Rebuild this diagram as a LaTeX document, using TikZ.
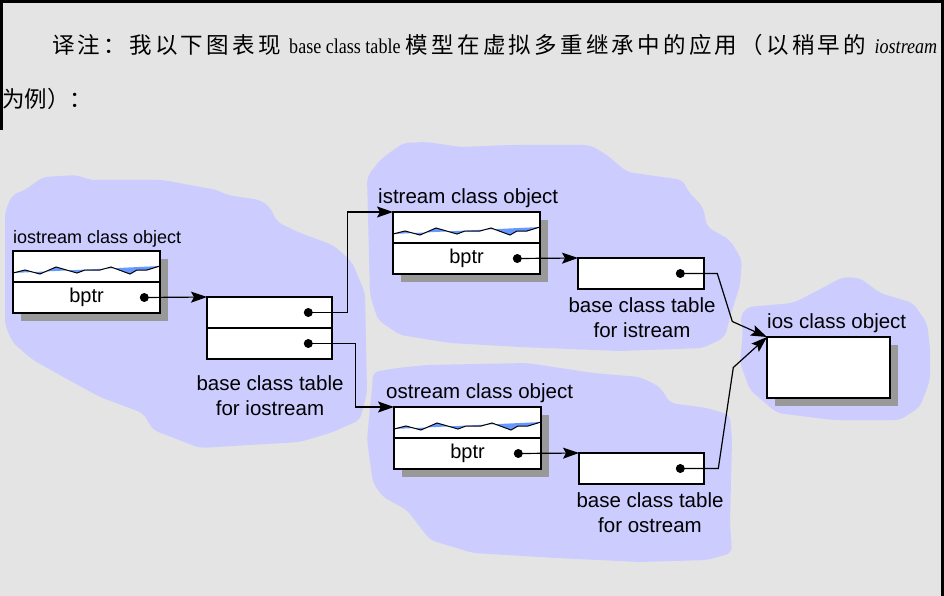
\documentclass[tikz,border=0pt]{standalone}
\usepackage{fontspec}
\setmainfont{Liberation Serif}
\setsansfont{Liberation Sans}
\newfontfamily\cjk{Noto Sans CJK SC}
\usetikzlibrary{arrows.meta,positioning,shadows}

\definecolor{paper}{HTML}{E4E4E4}
\definecolor{cloud}{HTML}{CCCCFF}
\definecolor{shade}{HTML}{999999}
\definecolor{wave}{HTML}{6699FF}

% spread a run of CJK characters over a justified line
\newcommand\cjkspread[1]{\cjkspreadi#1\relax}
\def\cjkspreadi#1{\ifx#1\relax\else#1\hskip 0pt plus 1fil\relax\expandafter\cjkspreadi\fi}
% narrow Latin words inside the CJK line
\newcommand\narrowlatin[1]{\scalebox{0.86}[1]{#1}}

% zigzag that stands for the data members of a class object
\newcommand{\slotwave}[1]{%
  \begin{scope}[shift={(#1)}]
    \fill[wave] (0,22) -- (12,19) -- (27,23) -- (43,16) -- (64,22) -- (72,19) -- (87,19)
      -- (98,16) -- (117,23) -- (124,19) -- (134,19) -- (147,15) -- cycle;
    \draw[line width=1] (0,22) -- (12,19) -- (27,23) -- (43,16) -- (64,22) -- (72,19) -- (87,19)
      -- (98,16) -- (117,23) -- (124,19) -- (134,19) -- (147,15);
  \end{scope}}

\begin{document}
\begin{tikzpicture}[x=1pt, y=-1pt, line join=miter]
    \tikzstyle{cell} = [draw, fill=white, line width=1.5, outer sep=0, inner sep=0,
      minimum height=31, font=\sffamily\fontsize{20}{24}\selectfont]
    \tikzstyle{obj} = [cell, minimum width=147,
      drop shadow={shadow xshift=8pt, shadow yshift=-8pt, opacity=1, fill=shade}]
    \tikzstyle{dot} = [circle, fill=black, inner sep=0, minimum size=9]
    \tikzstyle{lbl} = [inner sep=0, font=\sffamily\fontsize{20.5}{24.5}\selectfont]
    \tikzstyle{ptr} = [-{Stealth[length=16pt, width=11pt, inset=3pt]}, line width=1.2]
    \tikzstyle{note} = [inner sep=0, anchor=base west]

    \useasboundingbox (0,0) rectangle (944,596);
    \fill[paper] (0,0) rectangle (944,596);
    \draw[line width=3] (0,1.5) -- (944,1.5);
    \draw[line width=2.5] (1.25,0) -- (1.25,130);
    \draw[line width=3] (942.5,0) -- (942.5,596);

    \node (note1) [note] at (52,54) {\makebox[885pt][s]{\fontsize{21}{25}\selectfont
      {\cjk\fontsize{22.5}{26}\selectfont\cjkspread{译注：我以下图表现}} \narrowlatin{base class table}
      {\cjk\fontsize{22.5}{26}\selectfont\cjkspread{模型在虚拟多重继承中的应用（以稍早的}} \narrowlatin{\textit{iostream}}}};
    \node (note2) [note] at (2,108) {\cjk\fontsize{22.5}{26}\selectfont 为例）：};

    % the four objects' clouds
    \fill[cloud, rounded corners=6] (5,212) -- (12,195) -- (25,190) -- (43,177) -- (77,175)
      -- (90,180) -- (163,180) -- (217,190) -- (227,195) -- (260,200) -- (270,207) -- (277,222)
      -- (300,233) -- (333,245) -- (352,262) -- (365,293) -- (367,393) -- (360,420) -- (333,432)
      -- (300,442) -- (200,448) -- (153,430) -- (143,413) -- (100,397) -- (87,390) -- (33,360)
      -- (13,343) -- (5,325) -- cycle;
    \fill[cloud, rounded corners=6] (367,177) -- (380,160) -- (403,143) -- (427,142) -- (460,147)
      -- (510,145) -- (590,145) -- (607,155) -- (627,172) -- (683,180) -- (687,190) -- (703,207)
      -- (707,227) -- (730,240) -- (742,260) -- (740,285) -- (730,317) -- (725,337) -- (703,348)
      -- (620,351) -- (520,347) -- (450,343) -- (400,335) -- (378,320) -- (370,295) -- cycle;
    \fill[cloud, rounded corners=6] (372,390) -- (373,372) -- (397,368) -- (427,365) -- (527,363)
      -- (593,373) -- (640,377) -- (660,387) -- (670,403) -- (707,408) -- (730,415) -- (732,440)
      -- (730,523) -- (732,553) -- (707,560) -- (640,562) -- (557,558) -- (473,553) -- (430,540)
      -- (407,510) -- (383,497) -- (373,483) -- (367,440) -- (370,407) -- cycle;
    \fill[cloud, rounded corners=6] (747,307) -- (793,303) -- (813,293) -- (843,277) -- (860,278)
      -- (880,293) -- (913,303) -- (927,323) -- (930,347) -- (930,380) -- (920,407) -- (900,420)
      -- (833,420) -- (777,413) -- (750,390) -- (740,363) -- (743,330) -- (740,317) -- cycle;

    % iostream
    \node (iosobj-a) [obj, anchor=north west] at (13,251) {};
    \node (iosobj-b) [obj, below=0pt of iosobj-a] {bptr};
    \slotwave{iosobj-a.north west}
    \node (iosobj-dot) [dot, left=11pt of iosobj-b.east] {};
    \node (iosobj-lbl) [lbl, font=\sffamily\fontsize{18}{22}\selectfont, anchor=base west] at (13,243) {iostream class object};
    \node (iotab-a) [cell, minimum width=125, anchor=north west] at (207,297) {};
    \node (iotab-b) [cell, minimum width=125, below=0pt of iotab-a] {};
    \node (iotab-dota) [dot, left=19pt of iotab-a.east] {};
    \node (iotab-dotb) [dot, left=19pt of iotab-b.east] {};
    \node (iotab-lbl) [lbl, align=center, anchor=base] at (270,415) {base class table\\for iostream};

    % istream
    \node (isobj-a) [obj, anchor=north west] at (393,212) {};
    \node (isobj-b) [obj, below=0pt of isobj-a] {bptr};
    \slotwave{isobj-a.north west}
    \node (isobj-dot) [dot, left=18pt of isobj-b.east] {};
    \node (isobj-lbl) [lbl, anchor=base west] at (378,203) {istream class object};
    \node (istab) [cell, minimum width=126, anchor=north west] at (578,258) {};
    \node (istab-dot) [dot, left=19pt of istab.east] {};
    \node (istab-lbl) [lbl, align=center, anchor=base] at (642,337) {base class table\\for istream};

    % ostream
    \node (osobj-a) [obj, anchor=north west] at (394,407) {};
    \node (osobj-b) [obj, below=0pt of osobj-a] {bptr};
    \slotwave{osobj-a.north west}
    \node (osobj-dot) [dot, left=18pt of osobj-b.east] {};
    \node (osobj-lbl) [lbl, anchor=base west] at (386,398) {ostream class object};
    \node (ostab) [cell, minimum width=125, anchor=north west] at (579,453) {};
    \node (ostab-dot) [dot, left=19pt of ostab.east] {};
    \node (ostab-lbl) [lbl, align=center, anchor=base] at (650,532) {base class table\\for ostream};

    % ios
    \node (iosbase) [obj, minimum width=123, minimum height=61, anchor=north west] at (767,337) {};
    \node (iosbase-lbl) [lbl, anchor=base west] at (767,328) {ios class object};

    \draw[ptr] (iosobj-dot.center) -- (iotab-a.north west);
    \draw[ptr] (iotab-dota.center) -- ++(39,0) |- (isobj-a.north west);
    \draw[ptr] (iotab-dotb.center) -- ++(47,0) |- (osobj-a.north west);
    \draw[ptr] (isobj-dot.center) -- (istab.north west);
    \draw[ptr] (osobj-dot.center) -- (ostab.north west);
    \draw[ptr] (istab-dot.center) -- ++(37,0) -- ++(15,48) -- (iosbase.north west);
    \draw[ptr] (ostab-dot.center) -- ++(38,0) -- ++(15,-101) -- (iosbase.north west);
\end{tikzpicture}
\end{document}
